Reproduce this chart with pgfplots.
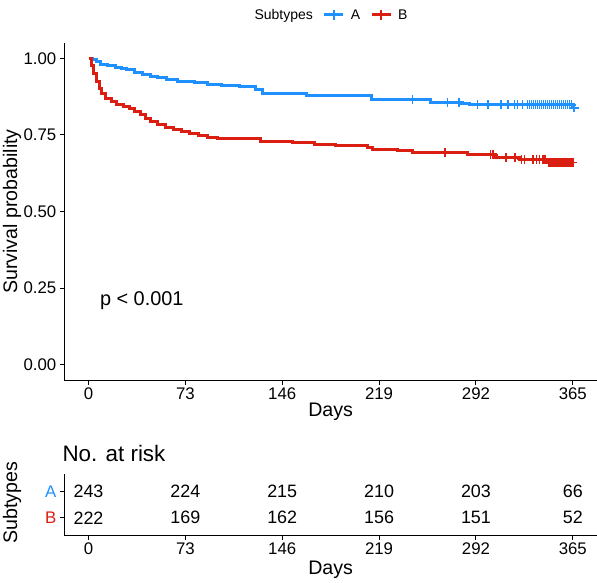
\documentclass[border=0pt]{standalone}
\usepackage{fontspec}
\setmainfont{Liberation Sans}
\usepackage{pgfplots}
\pgfplotsset{compat=1.18}
\definecolor{cA}{RGB}{30,144,255}
\definecolor{cB}{RGB}{218,30,18}
\newcommand{\fs}[1]{\fontsize{#1}{#1}\selectfont}
\pgfplotsset{
 kmleg/.style={legend image code/.code={\draw[##1, line width=3pt] (0pt,0pt) -- (19pt,0pt); \draw[##1, line width=1.6pt] (9.5pt,-5pt) -- (9.5pt,5pt);}},
 kmbase/.style={
  scale only axis, width=532.7pt, xmin=-18.25, xmax=383.25,
  axis x line*=bottom, axis y line*=left, axis line style={line width=0.9pt,-},
  xtick={0,73,146,219,292,365},
  tick style={black, line width=0.9pt}, major tick length=4.5pt, tick align=outside,
  /pgf/number format/assume math mode=true,
  ticklabel style={font=\fs{16.8}},
  clip=false,
 }
}

\begin{document}
\begin{tikzpicture}
\useasboundingbox (0,0) rectangle (597pt,582pt);
% ---------------- main KM plot ----------------
\begin{axis}[kmbase, at={(64.3pt,202pt)}, anchor=south west, height=337pt,
  ymin=-0.05, ymax=1.05, ytick={0,0.25,0.5,0.75,1},
  yticklabel style={/pgf/number format/fixed, /pgf/number format/fixed zerofill, /pgf/number format/precision=2},
  xlabel={Days}, ylabel={Survival probability},
  every axis x label/.style={at={(axis description cs:0.5,-0.095)}, anchor=center, font=\fs{19.6}},
  every axis y label/.style={at={(axis description cs:-0.098,0.5)}, rotate=90, anchor=center, font=\fs{19.6}},
  legend columns=-1,
  legend style={draw=none, fill=none, at={(0.497,1)}, anchor=center, yshift=28pt, font=\fs{14},
    /tikz/every even column/.append style={column sep=8pt},
    /tikz/every odd column/.append style={column sep=4pt}},
]
\addlegendimage{empty legend}
\addlegendentry{Subtypes}
\addplot[const plot, cA, line width=3pt, kmleg]
 table {
 t s
 0 1.000
 3 0.996
 6 0.988
 9 0.980
 14 0.976
 20 0.971
 25 0.967
 29 0.962
 35 0.955
 41 0.948
 47 0.942
 52 0.937
 59 0.930
 67 0.925
 80 0.920
 90 0.915
 100 0.911
 114 0.907
 126 0.898
 131 0.886
 164 0.878
 213 0.864
 258 0.857
 281 0.853
 287 0.848
 364.5 0.838
 366 0.838
 };
\addlegendentry{A}
\addplot[const plot, cB, line width=3pt, kmleg]
 table {
 t s
 0 1.000
 2 0.975
 4 0.950
 6 0.925
 8 0.900
 10 0.885
 13 0.870
 17 0.858
 21 0.850
 26 0.842
 31 0.835
 35 0.826
 39 0.815
 43 0.805
 47 0.795
 52 0.785
 58 0.775
 64 0.768
 70 0.760
 76 0.753
 83 0.748
 90 0.743
 97 0.739
 130 0.730
 154 0.725
 170 0.720
 186 0.714
 210 0.708
 214 0.703
 233 0.698
 244 0.692
 286 0.685
 307 0.676
 325 0.671
 346 0.660
 366 0.660
 };
\addlegendentry{B}
% censor marks A
\addplot[only marks, mark=+, cA, mark size=4.5pt, line width=1.5pt, forget plot] table {
 t s
 244 0.864
 270.6 0.857
 279.4 0.857
 293 0.848
 301 0.848
 311 0.848
 316 0.848
 321 0.848
 323.5 0.848
 327 0.848
 331 0.848
 332.5 0.848
 334 0.848
 335.5 0.848
 337 0.848
 338.5 0.848
 340 0.848
 341.5 0.848
 343 0.848
 344.5 0.848
 346 0.848
 347.5 0.848
 349 0.848
 350.5 0.848
 352 0.848
 353.5 0.848
 355 0.848
 356.5 0.848
 358 0.848
 359.5 0.848
 361 0.848
 362.5 0.848
 364 0.848
 366 0.838
 };
% censor marks B
\addplot[only marks, mark=+, cB, mark size=4.5pt, line width=1.5pt, forget plot] table {
 t s
 268.6 0.692
 303 0.685
 305 0.685
 314.7 0.676
 321.5 0.676
 326.5 0.671
 328.5 0.671
 335 0.671
 337.5 0.671
 340 0.671
 342.5 0.671
 344 0.671
 347 0.660
 348.5 0.660
 350 0.660
 351.5 0.660
 353 0.660
 354.5 0.660
 356 0.660
 357.5 0.660
 359 0.660
 360.5 0.660
 362 0.660
 363.5 0.660
 365 0.660
 };
\node[anchor=west, font=\fs{19.9}] at (axis cs:6,0.21) {p < 0.001};
\end{axis}
% ---------------- risk table ----------------
\begin{axis}[kmbase, at={(64.3pt,47pt)}, anchor=south west, height=61pt,
  ymin=0.35, ymax=2.65, ytick={1,2},
  yticklabels={\textcolor{cB}{B},\textcolor{cA}{A}},
  xlabel={Days}, ylabel={Subtypes},
  every axis x label/.style={at={(axis description cs:0.5,-0.574)}, anchor=center, font=\fs{19.6}},
  every axis y label/.style={at={(axis description cs:-0.098,0.525)}, rotate=90, anchor=center, font=\fs{19.6}},
]
\addplot[draw=none, mark=none, nodes near coords, point meta=explicit symbolic,
  nodes near coords style={anchor=center, font=\fs{17.9}}]
 coordinates {(0,2)[243] (73,2)[224] (146,2)[215] (219,2)[210] (292,2)[203] (365,2)[66]
              (0,1)[222] (73,1)[169] (146,1)[162] (219,1)[156] (292,1)[151] (365,1)[52]};
\node[anchor=west, font=\fs{22.4}] at (axis description cs:-0.01,1.344) {No. at risk};
\end{axis}
\end{tikzpicture}
\end{document}
